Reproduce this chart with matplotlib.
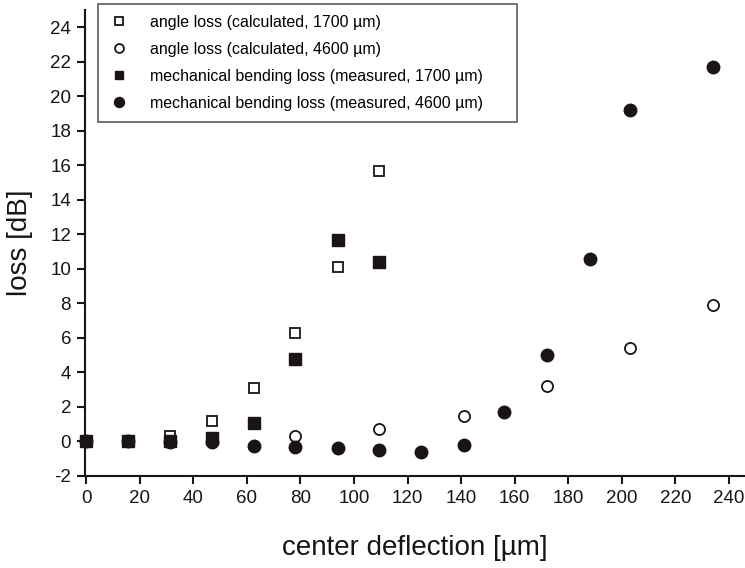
import matplotlib
matplotlib.use("Agg")
import matplotlib.pyplot as plt

plt.rcParams['font.family'] = ['Liberation Sans', 'DejaVu Sans']
plt.rcParams['axes.unicode_minus'] = False

# center deflection [um]
x_1700 = [0, 15.6, 31.2, 46.8, 62.5, 78, 94, 109.5]
x_4600 = [0, 15.6, 31.2, 46.8, 62.5, 78, 94, 109.5, 125, 141, 156, 172, 188, 203, 234]

# loss [dB]
angle_1700 = [0.0, 0.0, 0.3, 1.2, 3.1, 6.3, 10.1, 15.7]
mech_1700 = [0.0, 0.0, 0.0, 0.2, 1.1, 4.8, 11.7, 10.4]

x_angle_4600 = [0, 15.6, 78, 109.5, 141, 172, 203, 234]
angle_4600 = [0.0, 0.0, 0.3, 0.7, 1.5, 3.2, 5.4, 7.9]
mech_4600 = [0.0, 0.0, -0.05, -0.05, -0.25, -0.3, -0.4, -0.5, -0.6, -0.2,
             1.7, 5.0, 10.6, 19.2, 21.7]

labels = ['angle loss (calculated, 1700 \u00b5m)',
          'angle loss (calculated, 4600 \u00b5m)',
          'mechanical bending loss (measured, 1700 \u00b5m)',
          'mechanical bending loss (measured, 4600 \u00b5m)']

ink = '#1a1414'

fig = plt.figure(figsize=(7.45, 5.68), dpi=100)
ax = fig.add_axes([0.114, 0.162, 0.886, 0.82])

ax.plot(x_1700, angle_1700, 's', ms=7.5, mfc='white', mec=ink, mew=1.3,
        clip_on=False, label=labels[0], zorder=3)
ax.plot(x_angle_4600, angle_4600, 'o', ms=8, mfc='white', mec=ink, mew=1.3,
        clip_on=False, label=labels[1], zorder=3)
ax.plot(x_1700, mech_1700, 's', ms=8, mfc=ink, mec=ink,
        clip_on=False, label=labels[2], zorder=4)
ax.plot(x_4600, mech_4600, 'o', ms=9, mfc=ink, mec=ink,
        clip_on=False, label=labels[3], zorder=4)

ax.set_xlim(-0.5, 246)
ax.set_ylim(-2, 25)
ax.set_xticks(range(0, 241, 20))
ax.set_yticks(range(-2, 25, 2))

for s in ['top', 'right']:
    ax.spines[s].set_visible(False)
for s in ['left', 'bottom']:
    ax.spines[s].set_linewidth(1.5)
    ax.spines[s].set_color(ink)

ax.tick_params(direction='out', length=6, width=1.5, labelsize=13.5,
               colors=ink, pad=4)

ax.set_xlabel('center deflection [\u00b5m]', fontsize=20, labelpad=20, color=ink)
ax.set_ylabel('loss [dB]', fontsize=20, labelpad=12, color=ink)

leg = ax.legend(loc='upper left', bbox_to_anchor=(0.0197, 0.5, 0.635, 0.514),
                mode='expand', fontsize=11.5,
                frameon=True, fancybox=False, edgecolor='#333333',
                markerscale=0.8, handletextpad=1.35, labelspacing=0.75,
                borderpad=0.7, handlelength=1.2, borderaxespad=0)
leg.get_frame().set_linewidth(1.2)

fig.savefig('out.png', dpi=100)
